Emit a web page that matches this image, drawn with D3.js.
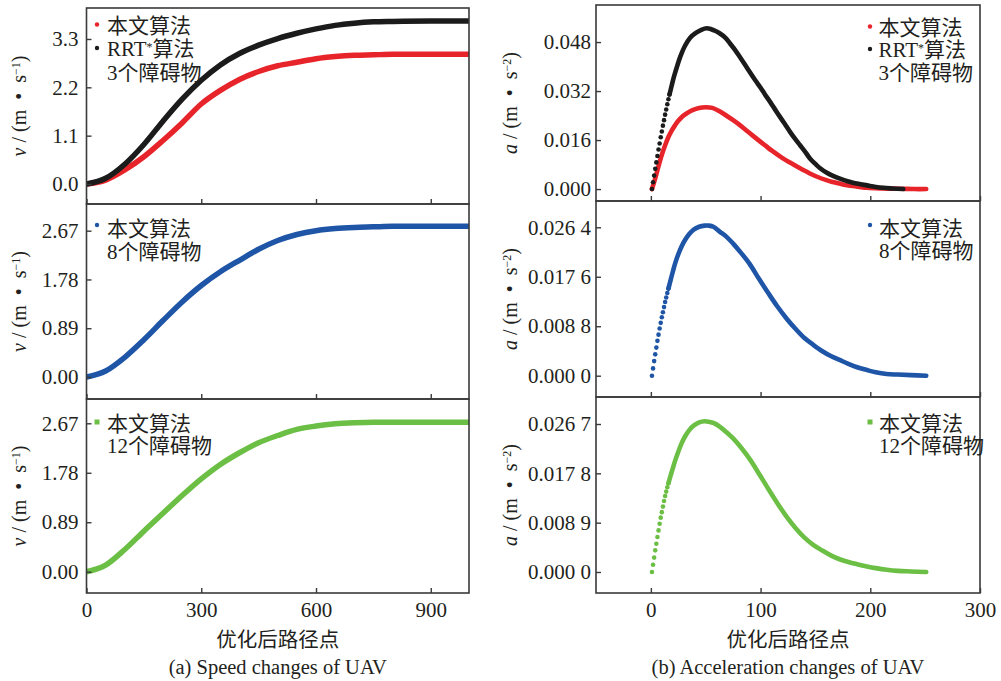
<!DOCTYPE html>
<html lang="zh">
<head>
<meta charset="UTF-8" />
<title>无人机速度与加速度变化</title>
<script src="https://d3js.org/d3.v7.min.js"></script>
<style>
  body { margin: 0; background: #fff; }
  svg { display: block; }
</style>
</head>
<body>
<script>
// ---- 速度 (左列) ----
const speedX     = [0, 50, 100, 150, 200, 250, 300, 350, 400, 450, 500, 550, 600, 650, 700, 750, 800, 900, 1000];
const speedRed   = [0, 0.09, 0.32, 0.62, 0.99, 1.39, 1.82, 2.13, 2.38, 2.56, 2.69, 2.77, 2.85, 2.90, 2.93, 2.94, 2.95, 2.95, 2.95];
const speedBlack = [0, 0.13, 0.45, 0.90, 1.43, 1.93, 2.36, 2.71, 2.97, 3.16, 3.31, 3.43, 3.53, 3.61, 3.66, 3.69, 3.70, 3.71, 3.71];
const speedBlue  = [0, 0.11, 0.36, 0.68, 1.03, 1.37, 1.67, 1.92, 2.13, 2.33, 2.49, 2.60, 2.67, 2.71, 2.73, 2.74, 2.75, 2.75, 2.75];
const speedGreen = [0, 0.12, 0.40, 0.73, 1.05, 1.37, 1.67, 1.93, 2.14, 2.32, 2.45, 2.56, 2.62, 2.66, 2.68, 2.69, 2.69, 2.69, 2.69];

// ---- 加速度 (右列) ----
const accRedX   = [1, 4, 7, 10, 13, 16, 19, 22, 25, 29, 33, 38, 44, 50, 56, 63, 70, 75, 80, 90, 100, 105, 110, 120, 130, 136, 145, 151, 160, 166, 175, 182, 190, 197, 210, 227, 240, 251];
const accRed    = [0, 0.0035, 0.0075, 0.0112, 0.0143, 0.0170, 0.0191, 0.0208, 0.0223, 0.0238, 0.0248, 0.0258, 0.0265, 0.0267, 0.0265, 0.0253, 0.0237, 0.0225, 0.0212, 0.0183,
                   0.0154, 0.0140, 0.0126, 0.0101, 0.0080, 0.0068, 0.0051, 0.0041, 0.0029, 0.0023, 0.0015, 0.0011, 0.0007, 0.0004, 0.0002, 0.0001, 0, 0];
const accBlackX = [1, 2, 3, 4, 5, 6, 7, 8, 9, 10, 11, 12, 13, 14, 15, 16, 17, 19, 21, 24, 27, 31, 36, 41, 46, 51, 55, 59,
                   63, 68, 72, 77, 81, 86, 90, 95, 100, 104, 109, 113, 118, 122, 127, 131, 136, 141, 145, 150, 154, 160, 166, 173, 181, 189, 197, 205, 212, 220, 230];
const accBlack  = [0, 0.0022, 0.0044, 0.0066, 0.0087, 0.0108, 0.0129, 0.0149, 0.0169, 0.0188, 0.0207, 0.0225, 0.0243, 0.0260, 0.0277, 0.0293, 0.0309,
                   0.0338, 0.0366, 0.0402, 0.0434, 0.0467, 0.0495, 0.0510, 0.0520, 0.0525, 0.0522, 0.0516,
                   0.0508, 0.0494, 0.0476, 0.0453, 0.0432, 0.0405, 0.0383, 0.0356, 0.0331, 0.0309, 0.0283, 0.0261, 0.0234, 0.0213, 0.0186, 0.0166, 0.0143,
                   0.0120, 0.0100, 0.0082, 0.0069, 0.0054, 0.0043, 0.0033, 0.0024, 0.0017, 0.0012, 0.0007, 0.0004, 0.0002, 0];
const accX8     = [1, 2, 3, 4, 5, 6, 7, 8, 9, 10, 11, 12, 13, 14, 15, 16, 18, 20, 22, 25, 28, 31, 35, 39, 44, 49, 53, 57, 63, 69, 75,
                   82, 90, 99, 107, 115, 124, 132, 140, 148, 156, 164, 172, 180, 188, 197, 205, 215, 225, 237, 251];
const accBlue   = [0, 0.0013, 0.0026, 0.0038, 0.0050, 0.0062, 0.0073, 0.0084, 0.0094, 0.0104, 0.0113, 0.0122, 0.0131, 0.0139, 0.0147, 0.0155,
                   0.0170, 0.0185, 0.0199, 0.0216, 0.0230, 0.0241, 0.0252, 0.0260, 0.0265, 0.0267, 0.0267, 0.0265, 0.0256, 0.0247, 0.0235,
                   0.0219, 0.0199, 0.0171, 0.0147, 0.0124, 0.0101, 0.0083, 0.0067, 0.0055, 0.0044, 0.0035, 0.0028, 0.0021, 0.0015, 0.0010, 0.0006, 0.0003, 0.0002, 0.0001, 0];
const accX12    = accX8;
const accGreen  = [0, 0.0013, 0.0026, 0.0039, 0.0051, 0.0063, 0.0075, 0.0087, 0.0098, 0.0108, 0.0118, 0.0128, 0.0137, 0.0145, 0.0153, 0.0160,
                   0.0174, 0.0187, 0.0200, 0.0217, 0.0232, 0.0244, 0.0256, 0.0264, 0.0270, 0.0272, 0.0271, 0.0269, 0.0262, 0.0252, 0.0241,
                   0.0225, 0.0204, 0.0176, 0.0150, 0.0125, 0.0099, 0.0079, 0.0062, 0.0049, 0.0039, 0.0030, 0.0023, 0.0018, 0.0014, 0.0010, 0.0007, 0.0004, 0.0002, 0.0001, 0];

// ---- 刻度 ----
const vTicks1 = [0, 1.1, 2.2, 3.3],       vLabels1 = ['0.0', '1.1', '2.2', '3.3'];
const vTicks2 = [0, 0.89, 1.78, 2.67],    vLabels2 = ['0.00', '0.89', '1.78', '2.67'];
const aTicks1 = [0, 0.016, 0.032, 0.048], aLabels1 = ['0.000', '0.016', '0.032', '0.048'];
const aTicks2 = [0, 0.0088, 0.0176, 0.0264], aLabels2 = ['0.000 0', '0.008 8', '0.017 6', '0.026 4'];
const aTicks3 = [0, 0.0089, 0.0178, 0.0267], aLabels3 = ['0.000 0', '0.008 9', '0.017 8', '0.026 7'];
const leftXTicks = [0, 300, 600, 900];
const rightXTicks = [0, 100, 200, 300];

const RED = '#e8242b', BLACK = '#1b1b1b', BLUE = '#1f55a6', GREEN = '#6cbf45';
const INK = '#231f20', FRAME = '#3a3a3a';
const serif = '"Liberation Serif", "Times New Roman", serif';
const mixed = '"Liberation Serif", "Noto Sans CJK SC", sans-serif';

const svg = d3.select('body').append('svg').attr('width', 1001).attr('height', 681);

const xLeft = d3.scaleLinear().domain([0, 1000]).range([86.5, 469]);
const xRight = d3.scaleLinear().domain([-50, 300]).range([596, 980]);

const panels = [
  { x: xLeft, top: 8, bottom: 204, dom: [-0.455, 4.005], ticks: vTicks1, labels: vLabels1, xticks: leftXTicks, last: false,
    kind: 'v', series: [[speedX, speedRed, RED], [speedX, speedBlack, BLACK]],
    legend: { mx: 97, tx: 107, marks: [[RED, 'dot', 24.5], [BLACK, 'dot', 48]], lines: [['本文算法', 25], ['RRT*算法', 48.5], ['3个障碍物', 72]] } },
  { x: xLeft, top: 204, bottom: 399, dom: [-0.4015, 3.157], ticks: vTicks2, labels: vLabels2, xticks: leftXTicks, last: false,
    kind: 'v', series: [[speedX, speedBlue, BLUE]],
    legend: { mx: 97, tx: 107, marks: [[BLUE, 'dot', 225]], lines: [['本文算法', 228], ['8个障碍物', 251.5]] } },
  { x: xLeft, top: 399, bottom: 593, dom: [-0.383, 3.107], ticks: vTicks2, labels: vLabels2, xticks: leftXTicks, last: true,
    kind: 'v', series: [[speedX, speedGreen, GREEN]],
    legend: { mx: 97, tx: 107, marks: [[GREEN, 'square', 422]], lines: [['本文算法', 423], ['12个障碍物', 445]] } },
  { x: xRight, top: 5, bottom: 201, dom: [-0.0039, 0.0601], ticks: aTicks1, labels: aLabels1, xticks: rightXTicks, last: false,
    kind: 'a', series: [[accRedX, accRed, RED, 1], [accBlackX, accBlack, BLACK, 17]],
    legend: { mx: 870, tx: 878.5, marks: [[RED, 'dot', 26.5], [BLACK, 'dot', 49]], lines: [['本文算法', 27], ['RRT*算法', 49.5], ['3个障碍物', 72]] } },
  { x: xRight, top: 201, bottom: 397, dom: [-0.00379, 0.03108], ticks: aTicks2, labels: aLabels2, xticks: rightXTicks, last: false,
    kind: 'a', series: [[accX8, accBlue, BLUE, 16]],
    legend: { mx: 870, tx: 879, marks: [[BLUE, 'dot', 225]], lines: [['本文算法', 228], ['8个障碍物', 250]] } },
  { x: xRight, top: 397, bottom: 593, dom: [-0.00379, 0.03157], ticks: aTicks3, labels: aLabels3, xticks: rightXTicks, last: true,
    kind: 'a', series: [[accX12, accGreen, GREEN, 16]],
    legend: { mx: 870, tx: 879, marks: [[GREEN, 'square', 422]], lines: [['本文算法', 423], ['12个障碍物', 445]] } }
];

panels.forEach((p, pi) => {
  const x = p.x;
  const y = d3.scaleLinear().domain(p.dom).range([p.bottom, p.top]);
  const x0 = x.range()[0], x1 = x.range()[1];
  const g = svg.append('g');

  const clipId = 'clip' + pi;
  svg.append('clipPath').attr('id', clipId).append('rect')
    .attr('x', x0).attr('y', p.top).attr('width', x1 - x0).attr('height', p.bottom - p.top);
  const plot = g.append('g').attr('clip-path', `url(#${clipId})`);

  p.series.forEach(s => {
    const pts = s[0].map((d, i) => ({ x: d, y: s[1][i] }));
    if (p.kind === 'v') {
      const line = d3.line().x(d => x(d.x)).y(d => y(d.y)).curve(d3.curveMonotoneX);
      plot.append('path').datum(pts).attr('d', line)
        .attr('fill', 'none').attr('stroke', s[2]).attr('stroke-width', 5.5).attr('stroke-linecap', 'round');
    } else {
      // 点很密的部分连成粗线，起步段保留单个散点
      const line = d3.line().x(d => x(d.x)).y(d => y(d.y)).curve(d3.curveCatmullRom.alpha(0.5));
      plot.append('path').datum(pts.filter(d => d.x >= s[3])).attr('d', line)
        .attr('fill', 'none').attr('stroke', s[2]).attr('stroke-width', 4.6).attr('stroke-linecap', 'round');
      plot.append('g').selectAll('circle').data(pts.filter(d => d.x <= s[3])).join('circle')
        .attr('cx', d => x(d.x)).attr('cy', d => y(d.y)).attr('r', 2.3).attr('fill', s[2]);
    }
  });

  // 边框
  g.append('rect').attr('x', x0).attr('y', p.top).attr('width', x1 - x0).attr('height', p.bottom - p.top)
    .attr('fill', 'none').attr('stroke', FRAME).attr('stroke-width', 1.6);

  // y 轴
  const ay = g.append('g').attr('transform', `translate(${x0},0)`)
    .call(d3.axisLeft(y).tickValues(p.ticks).tickFormat((d, i) => p.labels[i]).tickSize(-5).tickPadding(p.kind === 'v' ? 8 : 5));
  ay.select('.domain').remove();
  ay.selectAll('line').attr('stroke', FRAME).attr('stroke-width', 1.4);
  ay.selectAll('text').attr('font-family', serif).attr('font-size', 21).attr('fill', INK);

  // x 轴
  const ax = g.append('g').attr('transform', `translate(0,${p.bottom})`)
    .call(d3.axisBottom(x).tickValues(p.xticks).tickSize(-5).tickPadding(9)
      .tickFormat(d => p.last ? d : ''));
  ax.select('.domain').remove();
  ax.selectAll('line').attr('stroke', FRAME).attr('stroke-width', 1.4);
  ax.selectAll('text').attr('font-family', serif).attr('font-size', 21).attr('fill', INK);

  // 图例
  const L = p.legend;
  L.marks.forEach(m => {
    if (m[1] === 'dot') {
      g.append('circle').attr('cx', L.mx).attr('cy', m[2]).attr('r', 2.2).attr('fill', m[0]);
    } else {
      g.append('rect').attr('x', L.mx - 2.5).attr('y', m[2] - 2.5).attr('width', 5).attr('height', 5).attr('fill', m[0]);
    }
  });
  L.lines.forEach(l => {
    const t = g.append('text').attr('x', L.tx).attr('y', l[1] + 7.5)
      .attr('font-family', mixed).attr('font-size', 21).attr('fill', INK);
    if (l[0].startsWith('RRT*')) {
      t.append('tspan').text('RRT');
      t.append('tspan').attr('font-size', 12).attr('baseline-shift', '45%').text('*');
      t.append('tspan').text(l[0].slice(4));
    } else {
      t.text(l[0]);
    }
  });

  // y 轴标题
  const yl = svg.append('text')
    .attr('transform', `translate(${p.kind === 'v' ? 19 : 510},${(p.top + p.bottom) / 2}) rotate(-90)`)
    .attr('text-anchor', 'middle').attr('dy', '0.33em')
    .attr('font-family', serif).attr('font-size', 20).attr('fill', INK)
    .style('white-space', 'pre');
  yl.append('tspan').attr('font-style', 'italic').text(p.kind === 'v' ? 'v' : 'a');
  yl.append('tspan').text(' / (m  •  s');
  yl.append('tspan').attr('font-size', 12).attr('baseline-shift', '50%').text(p.kind === 'v' ? '−1' : '−2');
  yl.append('tspan').text(')');
});

// x 轴标题与分图标题
[[xLeft, '(a) Speed changes of UAV'], [xRight, '(b) Acceleration changes of UAV']].forEach(([x, cap]) => {
  const cx = (x.range()[0] + x.range()[1]) / 2;
  svg.append('text').attr('x', cx).attr('y', 647).attr('text-anchor', 'middle')
    .attr('font-family', '"Noto Sans CJK SC", sans-serif').attr('font-size', 20.5).attr('fill', INK).text('优化后路径点');
  svg.append('text').attr('x', cx).attr('y', 674).attr('text-anchor', 'middle')
    .attr('font-family', serif).attr('font-size', 20.5).attr('fill', INK).text(cap);
});
</script>
</body>
</html>
